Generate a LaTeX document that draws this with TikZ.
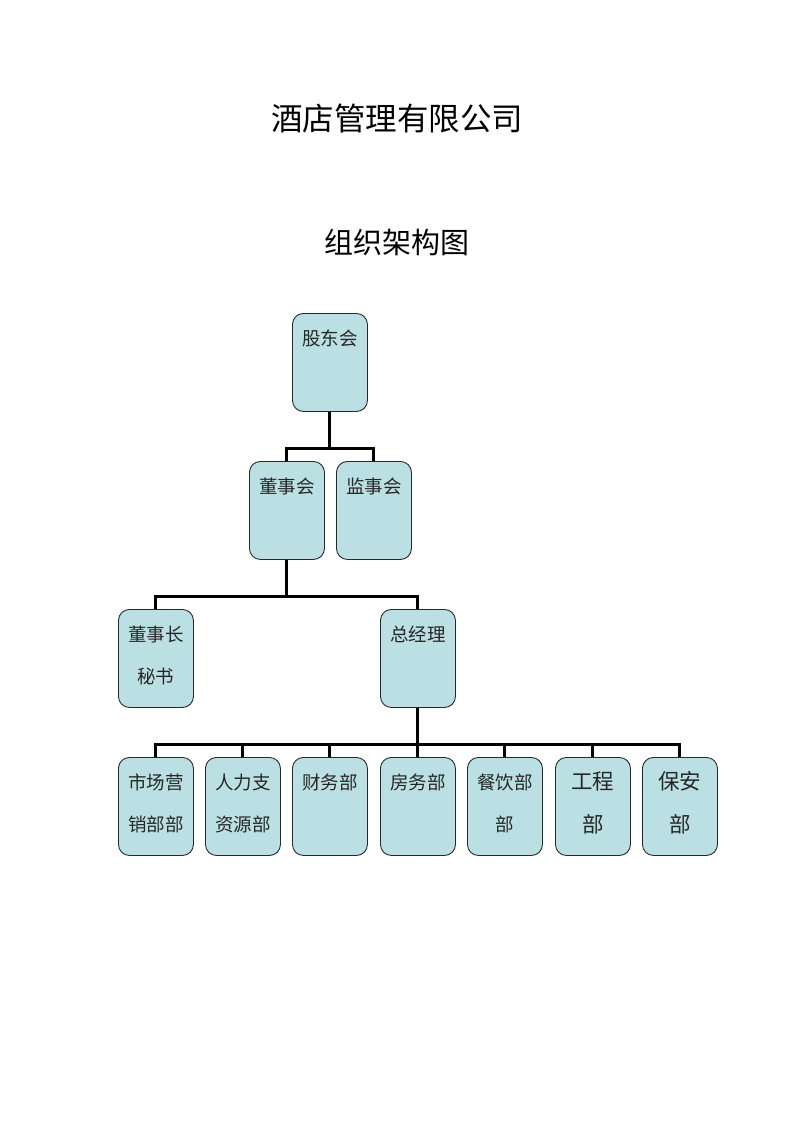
\documentclass[tikz,border=0pt]{standalone}
\usepackage{fontspec}
\newfontfamily\cjk{Noto Sans CJK SC}
\definecolor{boxfill}{RGB}{187,224,227}
\definecolor{boxline}{RGB}{40,40,40}
\begin{document}
\begin{tikzpicture}[x=1pt,y=-1pt,
  orgbox/.style={draw=boxline,line width=0.9pt,fill=boxfill,rounded corners=11pt,minimum width=75pt,minimum height=98pt,inner sep=0pt,anchor=north west},
  boxtxt/.style={font=\cjk\fontsize{18.5}{18.5}\selectfont,inner sep=0pt,text=black!85},
  bigtxt/.style={font=\cjk\fontsize{21.5}{21.5}\selectfont,inner sep=0pt,text=black!85},
  conn/.style={line width=3pt,draw=black}]
\useasboundingbox (0,0) rectangle (793,1122);
\node[font=\cjk\fontsize{31.5}{31.5}\selectfont,inner sep=0pt] (title) at (397,118) {酒店管理有限公司};
\node[font=\cjk\fontsize{29}{29}\selectfont,inner sep=0pt] (sub) at (397,242) {组织架构图};
% boxes
\node[orgbox] (gd) at (292,313) {};
\node[orgbox] (dsh) at (249,461) {};
\node[orgbox] (jsh) at (336,461) {};
\node[orgbox] (ms) at (118,609) {};
\node[orgbox] (zjl) at (380,609) {};
\node[orgbox] (b1) at (118,757) {};
\node[orgbox] (b2) at (205,757) {};
\node[orgbox] (b3) at (292,757) {};
\node[orgbox] (b4) at (380,757) {};
\node[orgbox] (b5) at (467,757) {};
\node[orgbox] (b6) at (555,757) {};
\node[orgbox] (b7) at (642,757) {};
% texts
\node[boxtxt] (tgd) at ([yshift=-25pt]gd.north) {股东会};
\node[boxtxt] (tdsh) at ([yshift=-25pt]dsh.north) {董事会};
\node[boxtxt] (tjsh) at ([yshift=-25pt]jsh.north) {监事会};
\node[boxtxt] (tms1) at ([yshift=-25pt]ms.north) {董事长};
\node[boxtxt] (tms2) at ([yshift=-67pt]ms.north) {秘书};
\node[boxtxt] (tzjl) at ([yshift=-25pt]zjl.north) {总经理};
\node[boxtxt] (tb1a) at ([yshift=-25pt]b1.north) {市场营};
\node[boxtxt] (tb1b) at ([yshift=-67pt]b1.north) {销部部};
\node[boxtxt] (tb2a) at ([yshift=-25pt]b2.north) {人力支};
\node[boxtxt] (tb2b) at ([yshift=-67pt]b2.north) {资源部};
\node[boxtxt] (tb3) at ([yshift=-25pt]b3.north) {财务部};
\node[boxtxt] (tb4) at ([yshift=-25pt]b4.north) {房务部};
\node[boxtxt] (tb5a) at ([yshift=-25pt]b5.north) {餐饮部};
\node[boxtxt] (tb5b) at ([yshift=-67pt]b5.north) {部};
\node[bigtxt] (tb6a) at ([yshift=-24pt]b6.north) {工程};
\node[bigtxt] (tb6b) at ([yshift=-67pt]b6.north) {部};
\node[bigtxt] (tb7a) at ([yshift=-24pt]b7.north) {保安};
\node[bigtxt] (tb7b) at ([yshift=-67pt]b7.north) {部};
% connectors
\coordinate (j1) at ([yshift=-37pt]gd.south);
\coordinate (j2) at ([yshift=-37pt]dsh.south);
\coordinate (j3) at ([yshift=-37pt]zjl.south);
\draw[conn] (gd.south) -- (j1);
\draw[conn] (dsh.north) |- (j1) -| (jsh.north);
\draw[conn] (dsh.south) -- (j2);
\draw[conn] (ms.north) |- (j2) -| (zjl.north);
\draw[conn] (zjl.south) -- (j3);
\draw[conn] (b1.north) |- (j3) -| (b7.north);
\foreach \b in {b2,b3,b5,b6} \draw[conn] (\b.north) -- (\b.north |- j3);
\draw[conn] (b4.north) -- (j3);
\end{tikzpicture}
\end{document}
